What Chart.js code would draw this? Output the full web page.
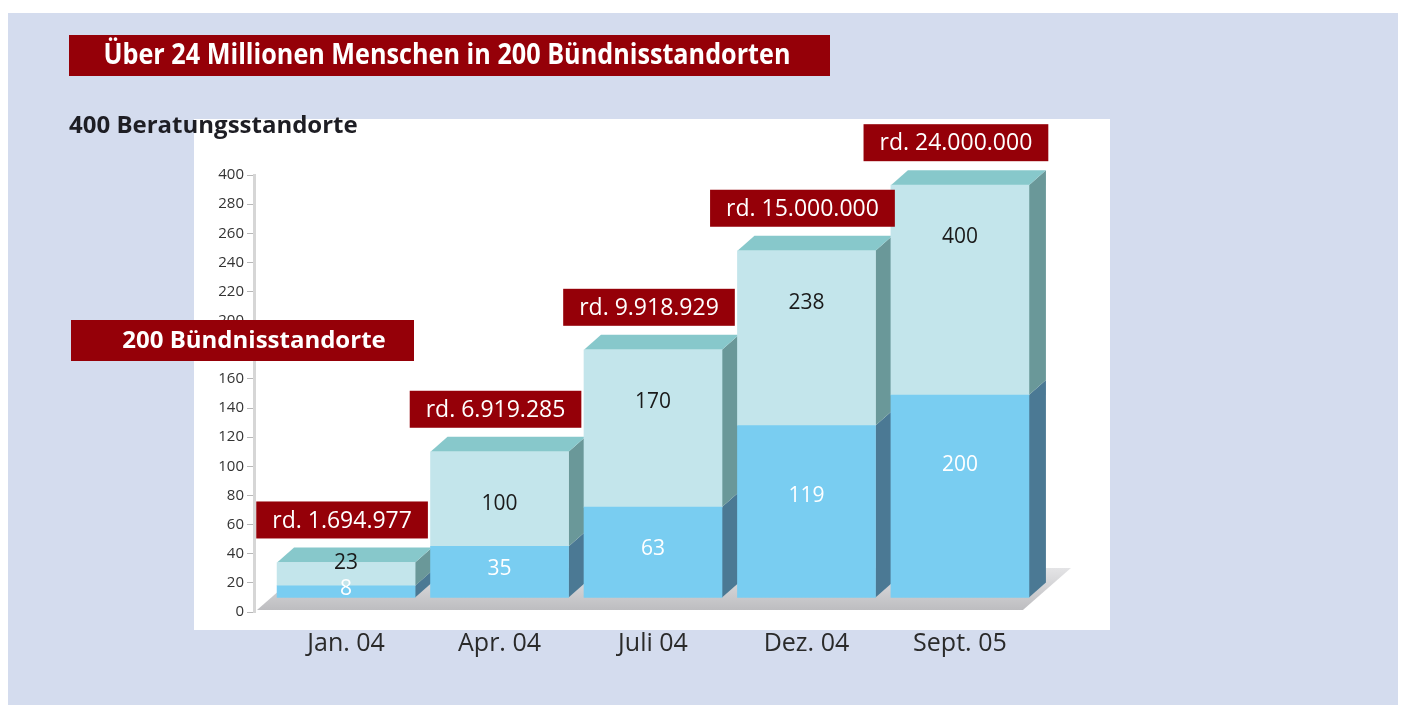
<!DOCTYPE html>
<html>
<head>
<meta charset="utf-8">
<script src="https://cdn.jsdelivr.net/npm/chart.js@4.4.1/dist/chart.umd.min.js"></script>
<style>
  html, body { margin: 0; padding: 0; background: #fff; }
  #chart { display: block; }
</style>
</head>
<body>
<canvas id="chart" width="1403" height="711"></canvas>
<script>
// categories and values
const categories = ['Jan. 04', 'Apr. 04', 'Juli 04', 'Dez. 04', 'Sept. 05'];
const floorValue = 10;                         // bars stand on the 3D floor
const lowerTops = [18, 45, 72, 128, 149];      // top of the blue part (axis units)
const upperTops = [34, 110, 180, 248, 293];    // top of the pale part (axis units)
const lowerLabels = ['8', '35', '63', '119', '200'];
const upperLabels = ['23', '100', '170', '238', '400'];
const peopleLabels = ['rd. 1.694.977', 'rd. 6.919.285', 'rd. 9.918.929', 'rd. 15.000.000', 'rd. 24.000.000'];
const yTickValues = [0, 20, 40, 60, 80, 100, 120, 140, 160, 180, 200, 220, 240, 260, 280, 300];
const yTickLabels = ['0', '20', '40', '60', '80', '100', '120', '140', '160', '180', '200', '220', '240', '260', '280', '400'];

const titleText = 'Über 24 Millionen Menschen in 200 Bündnisstandorten';
const subText = '400 Beratungsstandorte';
const boxText = '200 Bündnisstandorte';

const RED = '#950008';
const FONT = '"Open Sans", Lato, sans-serif';
const DX = 17, DY = 15;   // depth of the 3D bars

function shade(ctx, pts, color) {
  ctx.beginPath();
  ctx.moveTo(pts[0][0], pts[0][1]);
  for (let i = 1; i < pts.length; i++) ctx.lineTo(pts[i][0], pts[i][1]);
  ctx.closePath();
  ctx.fillStyle = color;
  ctx.fill();
}

function redBox(ctx, x, y, w, h, text, font, cx, maxW) {
  ctx.fillStyle = RED;
  ctx.fillRect(x, y, w, h);
  ctx.fillStyle = '#fff';
  ctx.font = font;
  ctx.textAlign = 'center';
  ctx.textBaseline = 'middle';
  ctx.fillText(text, cx === undefined ? x + w / 2 : cx, y + h / 2 + 1, maxW);
}

const backdrop = {
  id: 'backdrop',
  beforeDraw: (chart) => {
    const ctx = chart.ctx;
    ctx.save();
    ctx.fillStyle = '#ffffff';
    ctx.fillRect(0, 0, chart.width, chart.height);
    ctx.fillStyle = '#d4dcee';
    ctx.fillRect(8, 13, 1390, 692);
    ctx.fillStyle = '#ffffff';
    ctx.fillRect(194, 119, 916, 511);
    ctx.restore();
  },
  beforeDatasetsDraw: (chart) => {
    const ctx = chart.ctx;
    const x = chart.scales.x, y = chart.scales.y;
    ctx.save();
    // floor slab
    const fy = y.getPixelForValue(0) - 2;
    const left = chart.chartArea.left + 3;
    const right = x.getPixelForValue(5) + 69 - 6;
    const g = ctx.createLinearGradient(0, fy - 42, 0, fy);
    g.addColorStop(0, '#e4e4e6');
    g.addColorStop(1, '#bdbdc0');
    shade(ctx, [[left, fy], [right, fy], [right + 48, fy - 42], [left + 48, fy - 42]], g);
    // side and top faces
    const lower = chart.getDatasetMeta(0).data;
    const upper = chart.getDatasetMeta(1).data;
    for (let i = 0; i < categories.length; i++) {
      const lb = lower[i], ub = upper[i];
      const r = lb.x + lb.width / 2, l = lb.x - lb.width / 2;
      shade(ctx, [[r, lb.base], [r + DX, lb.base - DY], [r + DX, lb.y - DY], [r, lb.y]], '#4b7994');
      shade(ctx, [[r, ub.base], [r + DX, ub.base - DY], [r + DX, ub.y - DY], [r, ub.y]], '#6a9899');
      shade(ctx, [[l, ub.y], [l + DX, ub.y - DY], [r + DX, ub.y - DY], [r, ub.y]], '#87c8cb');
    }
    ctx.restore();
  },
  afterDatasetsDraw: (chart) => {
    const ctx = chart.ctx;
    const lower = chart.getDatasetMeta(0).data;
    const upper = chart.getDatasetMeta(1).data;
    ctx.save();
    ctx.textAlign = 'center';
    ctx.textBaseline = 'middle';
    for (let i = 0; i < categories.length; i++) {
      const lb = lower[i], ub = upper[i];
      ctx.font = '21px ' + FONT;
      ctx.fillStyle = '#ffffff';
      const lh = lb.base - lb.y;
      ctx.fillText(lowerLabels[i], lb.x, lb.y + Math.min(lh / 2 - 3, 70));
      ctx.fillStyle = '#1a1a1a';
      const uh = ub.base - ub.y;
      ctx.fillText(upperLabels[i], ub.x, uh > 40 ? ub.y + 52 : ub.y + 1);
      // people count box above each bar
      ctx.font = '23px ' + FONT;
      const w = ctx.measureText(peopleLabels[i]).width + 32;
      const by = ub.y - DY - 9 - 37;
      redBox(ctx, ub.x - 4 - w / 2, by, w, 37, peopleLabels[i], '23px ' + FONT);
    }
    // headline and side notes
    redBox(ctx, 69, 35, 761, 41, titleText, 'bold 28px ' + FONT, 447, 687);
    ctx.fillStyle = '#1e1e24';
    ctx.font = 'bold 24px ' + FONT;
    ctx.textAlign = 'left';
    ctx.fillText(subText, 69, 126);
    redBox(ctx, 71, 320, 343, 41, boxText, 'bold 24px ' + FONT, 254);
    ctx.restore();
  }
};

const chart = new Chart(document.getElementById('chart'), {
  type: 'bar',
  data: {
    datasets: [
      {
        label: 'Bündnisstandorte',
        data: lowerTops.map((v, i) => ({ x: i + 1, y: [floorValue, v] })),
        backgroundColor: '#79cdf1',
        borderWidth: 0,
        grouped: false,
        barThickness: 138
      },
      {
        label: 'Beratungsstandorte',
        data: upperTops.map((v, i) => ({ x: i + 1, y: [lowerTops[i], v] })),
        backgroundColor: '#c3e5eb',
        borderWidth: 0,
        grouped: false,
        barThickness: 138
      }
    ]
  },
  options: {
    responsive: false,
    animation: false,
    layout: { padding: { left: 194, right: 351, top: 175, bottom: 39 } },
    plugins: {
      legend: { display: false },
      tooltip: { enabled: false }
    },
    scales: {
      x: {
        type: 'linear',
        offset: false,
        min: 0.4,
        max: 5.6,
        afterFit: (scale) => { scale.height = 60; },
        afterBuildTicks: (axis) => { axis.ticks = categories.map((c, i) => ({ value: i + 1 })); },
        grid: { display: false, drawTicks: false },
        border: { display: false },
        ticks: {
          padding: 17,
          color: '#2a2a2a',
          font: { family: FONT, size: 25 },
          callback: (value) => categories[value - 1]
        }
      },
      y: {
        min: 0,
        max: 300,
        afterFit: (scale) => { scale.width = 60; },
        afterBuildTicks: (axis) => { axis.ticks = yTickValues.map(v => ({ value: v })); },
        grid: { drawOnChartArea: false, tickLength: 7, color: '#b8b8b8' },
        border: { color: '#d6d6d6', width: 3 },
        ticks: {
          padding: 3,
          color: '#333333',
          font: { family: FONT, size: 15 },
          callback: (value) => yTickLabels[yTickValues.indexOf(value)]
        }
      }
    }
  },
  plugins: [backdrop]
});
</script>
</body>
</html>
